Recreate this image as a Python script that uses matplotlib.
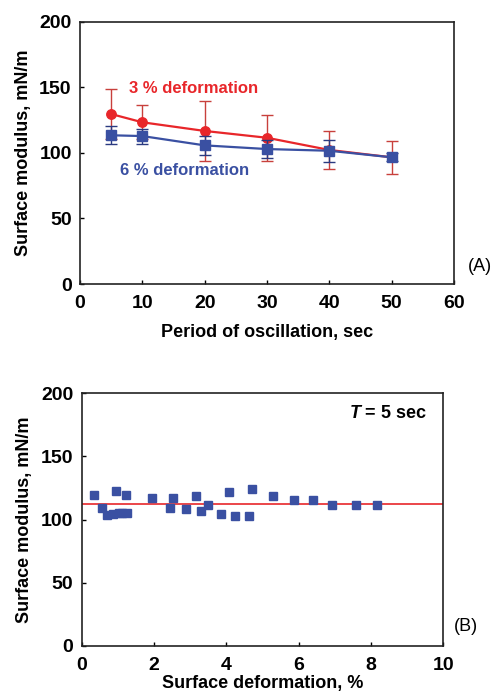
import matplotlib
matplotlib.use("Agg")
import matplotlib.pyplot as plt

plt.rcParams['font.family'] = ['Liberation Sans', 'DejaVu Sans']
plt.rcParams['mathtext.fontset'] = 'custom'
plt.rcParams['mathtext.it'] = 'Liberation Sans:italic:bold'
plt.rcParams['mathtext.rm'] = 'Liberation Sans:bold'

# Panel A data
period = [5, 10, 20, 30, 40, 50]
mod_3pct = [129.6, 123.3, 116.7, 111.5, 102.2, 96.6]
err_3pct = [19.0, 13.0, 22.8, 17.7, 14.6, 12.6]
mod_6pct = [113.4, 112.8, 105.7, 102.9, 101.6, 96.6]
err_6pct = [7.0, 5.7, 7.0, 7.0, 8.5, 3.0]

# Panel B data
deform = [0.33, 0.56, 0.70, 0.86, 0.94, 1.03, 1.12, 1.22, 1.26, 1.94,
          2.43, 2.53, 2.88, 3.15, 3.30, 3.48, 3.84, 4.08, 4.23, 4.62,
          4.72, 5.29, 5.86, 6.40, 6.93, 7.58, 8.18]
mod_b = [119.3, 109.5, 103.2, 104.5, 122.2, 105.3, 105.3, 119.6, 104.8, 116.9,
         109.0, 116.9, 108.7, 118.8, 106.9, 111.1, 104.0, 122.0, 102.4, 102.7,
         124.0, 118.3, 115.3, 115.3, 111.1, 111.1, 111.1]
mean_b = 112.2

RED = '#e8262a'
RED_ERR = '#c8403c'
BLUE = '#3a50a2'
BLUE_ERR = '#2a3a80'

TICK_FS = 14
LABEL_FS = 13

fig = plt.figure(figsize=(4.95, 6.94), dpi=100)

# ---- Panel A ----
axA = fig.add_axes([80/495, 1-284/694, 374/495, 262.3/694])
axA.errorbar(period, mod_3pct, yerr=err_3pct, fmt='none', ecolor=RED_ERR,
             elinewidth=1.0, capsize=4, capthick=1.0, zorder=2)
axA.plot(period, mod_3pct, '-o', color=RED, ms=6.8, lw=1.6, zorder=3)
axA.errorbar(period, mod_6pct, yerr=err_6pct, fmt='none', ecolor=BLUE_ERR,
             elinewidth=1.0, capsize=4, capthick=1.0, zorder=4)
axA.plot(period, mod_6pct, '-s', color=BLUE, ms=6.8, lw=1.6, zorder=5)
axA.set_xlim(0, 60)
axA.set_ylim(0, 200)
axA.set_xticks([0, 10, 20, 30, 40, 50, 60])
axA.set_yticks([0, 50, 100, 150, 200])
axA.set_xlabel('Period of oscillation, sec', fontsize=LABEL_FS, fontweight='bold', labelpad=8.8)
axA.set_ylabel('Surface modulus, mN/m', fontsize=LABEL_FS, fontweight='bold', labelpad=5.5)
axA.text(7.9, 148.7, '3 % deformation', color=RED, fontsize=12, fontweight='bold',
         va='center', ha='left')
axA.text(6.4, 86.2, '6 % deformation', color=BLUE, fontsize=12, fontweight='bold',
         va='center', ha='left')
axA.text(1.037, 0.066, '(A)', transform=axA.transAxes, fontsize=13, va='center', ha='left')

# ---- Panel B ----
axB = fig.add_axes([81.7/495, 1-645.7/694, 361.6/495, 252.4/694])
axB.axhline(mean_b, color=RED, lw=1.2, zorder=2)
axB.plot(deform, mod_b, 's', color=BLUE, ms=5.6, zorder=3)
axB.set_xlim(0, 10)
axB.set_ylim(0, 200)
axB.set_xticks([0, 2, 4, 6, 8, 10])
axB.set_yticks([0, 50, 100, 150, 200])
axB.set_xlabel('Surface deformation, %', fontsize=LABEL_FS, fontweight='bold', labelpad=1.2)
axB.set_ylabel('Surface modulus, mN/m', fontsize=LABEL_FS, fontweight='bold', labelpad=5.5)
axB.text(0.954, 0.921, r'$T$ = 5 sec', transform=axB.transAxes, fontsize=13,
         fontweight='bold', va='center', ha='right')
axB.text(1.03, 0.075, '(B)', transform=axB.transAxes, fontsize=13, va='center', ha='left')

for ax in (axA, axB):
    for sp in ax.spines.values():
        sp.set_linewidth(1.2)
        sp.set_color('#222222')
    ax.tick_params(direction='in', length=3, width=1, labelsize=TICK_FS, pad=6)
    ax.tick_params(axis='x', pad=8)
    for lab in ax.get_xticklabels() + ax.get_yticklabels():
        lab.set_fontweight('bold')

fig.savefig('out.png', dpi=100)
